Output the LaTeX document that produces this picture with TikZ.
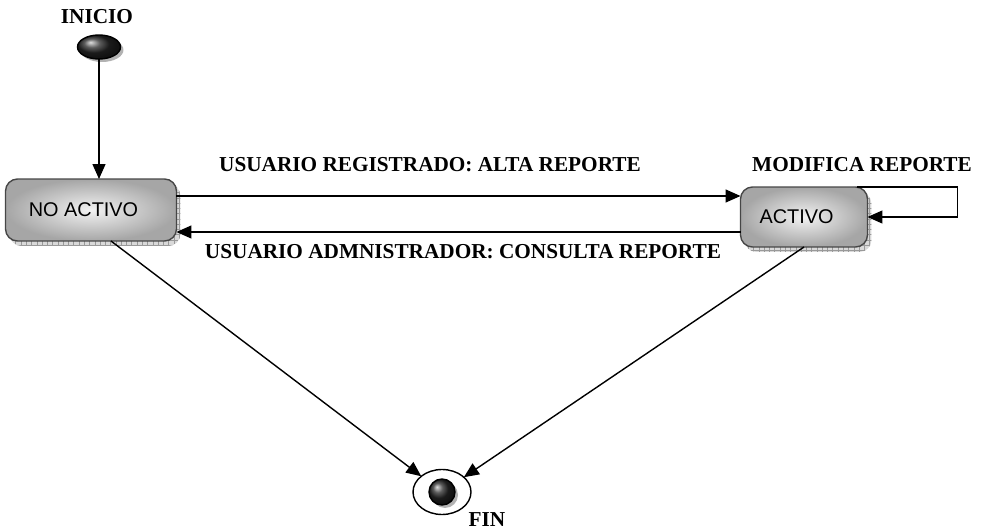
\documentclass[tikz,border=0pt]{standalone}
\usepackage{fontspec}
\setmainfont{Liberation Serif}
\newfontfamily\boxfont{Liberation Sans}
\usetikzlibrary{positioning,arrows.meta,shapes.geometric,shadows,patterns}

\begin{document}
\begin{tikzpicture}[x=0.02cm,y=-0.02cm,thick,
		every node/.style={outer sep=0pt},
		trans/.style={-{Triangle[length=3mm,width=2.6mm]}},
		statebox/.style={draw=gray!55!black,rounded corners=2.4mm,inner color=gray!10,outer color=gray!70,
		font=\boxfont\fontsize{11.3}{13}\selectfont,
		general shadow={fill=gray!30,shadow xshift=.8mm,shadow yshift=-1mm},
		general shadow={pattern=grid,pattern color=gray!80,shadow xshift=.8mm,shadow yshift=-1mm}},
		lbl/.style={font=\fontsize{12.1}{14}\selectfont\bfseries},
		dot/.style={draw,inner sep=0pt,ball color=black!85,
		drop shadow={fill=gray!60,opacity=1,shadow xshift=.6mm,shadow yshift=-.6mm}},
		]
		\useasboundingbox (0,0) rectangle (987,530);
		% estados
		\node[dot,ellipse,minimum width=0.86cm,minimum height=0.48cm] (ini) at (99,47) {};
		\node[lbl] (tini) at (97,17) {INICIO};
		\node[statebox,minimum width=3.42cm,minimum height=1.24cm] (noact) at (91,210) {\hspace*{-3mm}NO ACTIVO};
		\node[statebox,minimum width=2.54cm,minimum height=1.2cm] (act) at (804,217) {\hspace*{-3mm}ACTIVO};
		\node[ellipse,draw,minimum width=1.16cm,minimum height=0.9cm] (fin) at (442,492) {};
		\node[dot,circle,minimum size=0.52cm] (finc) at (fin) {};
		\node[lbl] (tfin) at (487,520) {FIN};

		% transiciones
		\draw[trans] (ini) -- (ini|-noact.north);
		\draw[trans] ([yshift=2.8mm]noact.east) coordinate(aux)
		 -- (act.west|-aux);
		\draw[trans] ([yshift=-3mm]act.west) coordinate(aux)
		 -- (noact.east|-aux);
		\draw[trans] ([xshift=-2.2mm]act.north east) -- ++(2.02cm,0) |- (act.east);
		\draw[trans] ([xshift=4mm]noact.south) -- (fin);
		\draw[trans] (act.south) -- (fin);

		% etiquetas
		\node[lbl] (treg) at (430,165) {USUARIO REGISTRADO: ALTA REPORTE};
		\node[lbl] (tadm) at (463,252) {USUARIO ADMNISTRADOR: CONSULTA REPORTE};
		\node[lbl] (tmod) at (862,165) {MODIFICA REPORTE};
\end{tikzpicture}
\end{document}
